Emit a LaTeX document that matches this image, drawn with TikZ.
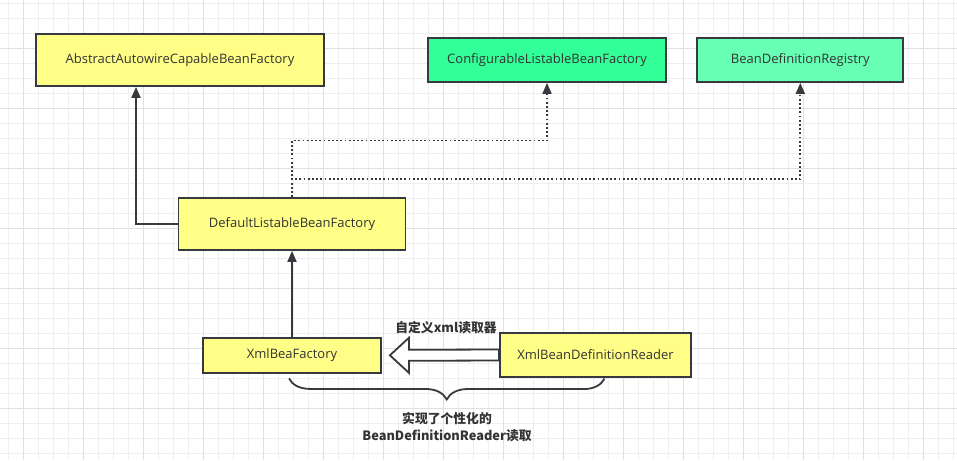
\documentclass[tikz,border=0pt]{standalone}
\usepackage{fontspec}
\setmainfont{Open Sans}
\newfontfamily\cjk{Noto Sans CJK SC}
\usepackage{tikz}
\usetikzlibrary{shapes,arrows,arrows.meta,positioning,calc,decorations.pathreplacing}
\definecolor{noteyellow}{HTML}{FFFF88}
\definecolor{ifacegreen}{HTML}{33FF99}
\definecolor{regigreen}{HTML}{66FFB3}
\definecolor{edgegray}{HTML}{36393D}
\definecolor{txtgray}{HTML}{333333}
\definecolor{gridminor}{HTML}{EFEFEF}
\definecolor{gridmajor}{HTML}{E0E0E0}

\begin{document}
\begin{tikzpicture}[
    x=1pt, y=-1pt,
    every node/.style={font=\fontsize{13}{15}\selectfont, text=txtgray},
    block/.style={rectangle, draw=edgegray, line width=1.8pt, inner sep=0pt, text centered, fill=noteyellow},
    arrow/.style={draw=edgegray, line width=1.8pt, -{Triangle[length=11pt,width=9pt]}},
    impl/.style={arrow, dash pattern=on 1.8pt off 2.4pt},
    hollow/.style={draw=edgegray, line width=1.8pt, fill=white, line join=miter},
    note/.style={font=\cjk\bfseries\fontsize{12.8}{17.5}\selectfont, align=center}
]
% background and grid
\useasboundingbox (0,0) rectangle (957,460);
\fill[white] (0,0) rectangle (957,460);
\foreach \gx in {8.3,23.3,...,957} \draw[gridminor, line width=1pt] (\gx,0) -- (\gx,460);
\foreach \gy in {3.3,18.3,...,460} \draw[gridminor, line width=1pt] (0,\gy) -- (957,\gy);
\foreach \gx in {23.3,83.3,...,957} \draw[gridmajor, line width=1pt] (\gx,0) -- (\gx,460);
\foreach \gy in {48.3,108.3,...,460} \draw[gridmajor, line width=1pt] (0,\gy) -- (957,\gy);

% classes
\node[block, minimum width=288pt, minimum height=52pt] (abstract) at (180,60) {AbstractAutowireCapableBeanFactory};
\node[block, fill=ifacegreen, minimum width=238pt, minimum height=44pt] (config) at (547,60) {ConfigurableListableBeanFactory};
\node[block, fill=regigreen, minimum width=206pt, minimum height=44pt] (registry) at (800.3,60) {BeanDefinitionRegistry};
\node[block, minimum width=227pt, minimum height=52pt] (default) at (292,224) {DefaultListableBeanFactory};
\node[block, minimum width=178pt, minimum height=35pt] (xmlbea) at (292,355.3) {XmlBeaFactory};
\node[block, minimum width=191pt, minimum height=44pt] (reader) at (595.5,354.7) {XmlBeanDefinitionReader};

% inheritance
\draw[arrow] (default.west) -| ([xshift=-44pt]abstract.south);
\draw[arrow] (xmlbea.north) -- (default.south);
\draw[impl] (default.north) |- (config.south |- 0,140.5) -- (config.south);
\draw[impl] (default.north) |- (registry.south |- 0,179.3) -- (registry.south);

% reader feeds the factory
\coordinate (tip) at ($(xmlbea.east)+(8,0)$);
\draw[hollow] (tip) -- ++(19,-17.5) -- ++(0,12) -- ($(reader.west)+(0,-5.2)$)
    -- ($(reader.west)+(0,5.8)$) -- ($(tip)+(19,5.5)$) -- ++(0,12) -- cycle;
\node[note] (custom) at (446,327.7) {自定义xml读取器};

% brace
\coordinate (bl) at ($(xmlbea.south)+(-3,4.7)$);
\coordinate (br) at ($(reader.south)+(9,1)$);
\draw[draw=edgegray, line width=1.8pt, decoration={brace, amplitude=21pt, mirror}, decorate] (bl) -- (br);
\node[note] (impltext) at (447,427) {实现了个性化的\\BeanDefinitionReader读取};
\end{tikzpicture}
\end{document}
